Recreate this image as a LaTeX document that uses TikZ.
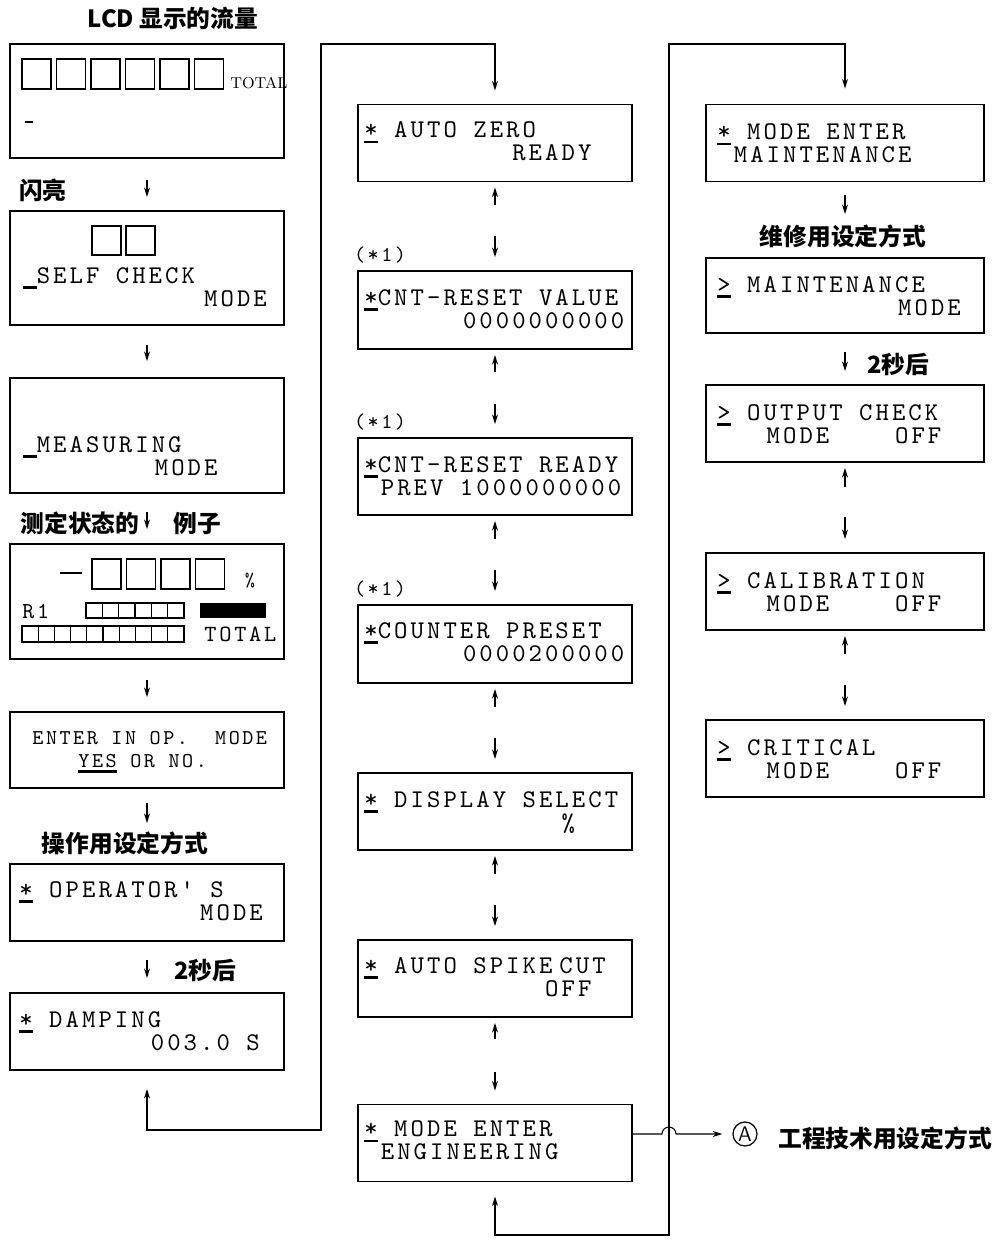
\documentclass[tikz,border=0pt]{standalone}
\usepackage{fontspec}
\newfontfamily\lcdfont{lmmono10-regular.otf}[LetterSpace=12]
\newfontfamily\cjk{Noto Sans CJK SC}
\usetikzlibrary{positioning, arrows.meta, calc}
% underline used for the LCD cursor
\newcommand\lcdul[1]{{\setbox0\hbox{#1}\rlap{\rule[-3pt]{\wd0}{1.3pt}}\box0}}
\newcommand\lcdcur{\lcdul{\phantom{x}}}

\begin{document}
\begin{tikzpicture}[
	x=0.02cm, y=-0.02cm,
	>={Stealth[length=5.5pt, width=3.4pt]},
	% LCD windows
	lcdbox/.style={
		draw,
		line width=1.1pt,
		minimum width=5.48cm,
		minimum height=1.54cm,
		inner sep=0pt
	},
	lcdtext/.style={
		anchor=north west,
		inner sep=0pt,
		align=left,
		font=\lcdfont\fontsize{14.5pt}{13pt}\selectfont
	},
	cn_label/.style={
		font=\cjk\bfseries\fontsize{13.5pt}{16pt}\selectfont,
		inner sep=0pt
	},
	note_text/.style={
		font=\lcdfont\fontsize{12pt}{12pt}\selectfont,
		inner sep=0pt
	},
	link/.style={line width=0.6pt},
	pairup/.style={link, <-, shorten <=0.1cm, shorten >=1.3cm},
	pairdown/.style={link, ->, shorten <=1.08cm, shorten >=0.26cm},
	cell/.style={line width=0.6pt}
	]
	
	\useasboundingbox (0,0) rectangle (1006,1241);
	
	% --- 1. LEFT COLUMN ---
	\node[cn_label] (lcd_title) at (173,18) {LCD 显示的流量};
	\node[lcdbox, minimum height=2.28cm] (lcd) at (147,101) {};
	\foreach \i in {0,...,5}
		\draw[cell] (22+34.5*\i,59) rectangle ++(29,30);
	\node[anchor=base west, inner sep=0pt, font=\rmfamily\fontsize{9pt}{9pt}\selectfont] (lcd_total) at (230,88) {TOTAL};
	\draw[line width=1.5pt] (25,122) -- (33,122);
	
	\node[cn_label] (flash) at (43,190) {闪亮};
	
	\node[lcdbox, minimum height=2.28cm] (self) at (147,268) {};
	\draw[cell] (92,226) rectangle ++(29,29);
	\draw[cell] (126,226) rectangle ++(29,29);
	\node[lcdtext] (self_t) at ([xshift=0.28cm, yshift=-1.14cm]self.north west) {\lcdcur SELF~CHECK\\~~~~~~~~~~~MODE};
	
	\node[lcdbox, minimum height=2.3cm] (meas) at (147,435.5) {};
	\node[lcdtext] (meas_t) at ([xshift=0.28cm, yshift=-1.18cm]meas.north west) {\lcdcur MEASURING\\~~~~~~~~MODE};
	
	\node[cn_label] (state_a) at (80,523) {测定状态的};
	\node[cn_label] (state_b) at (197,523) {例子};
	
	% example of the measuring display
	\node[lcdbox, minimum height=2.3cm] (exa) at (147,601.5) {};
	\draw[line width=1.2pt] (60,573) -- (82,573);
	\foreach \i in {0,...,3}
		\draw[cell] (92+34.5*\i,559) rectangle ++(29,30);
	\node[note_text, font=\lcdfont\fontsize{11pt}{11pt}\selectfont] (exa_pct) at (250,581) {\%};
	\node[note_text, anchor=base west, font=\lcdfont\fontsize{13pt}{13pt}\selectfont] (exa_r) at (22,618) {R1};
	\draw[cell] (86,603) rectangle (184,618);
	\foreach \i in {1,...,5}
		\draw[cell] (86+16.33*\i,603) -- ++(0,15);
	\fill (200,603) rectangle (266,618);
	\draw[cell] (22,626) rectangle (184,642);
	\foreach \i in {1,...,9}
		\draw[cell] (22+16.2*\i,626) -- ++(0,16);
	\node[note_text, anchor=base west, font=\lcdfont\fontsize{13.2pt}{13pt}\selectfont] (exa_total) at (204,641) {TOTAL};
	
	\node[lcdbox, minimum height=1.52cm] (enter) at (147,750) {};
	\node[lcdtext, font=\lcdfont\fontsize{12pt}{13pt}\selectfont] (enter_t) at ([xshift=0.46cm, yshift=-0.4cm]enter.north west) {ENTER~IN~OP.~~MODE\\~~~\hspace{3pt}\lcdul{YES}~OR~NO.};
	
	\node[cn_label] (oper_title) at (125,843) {操作用设定方式};
	
	\node[lcdbox] (oper) at (147,902.5) {};
	\node[lcdtext] (oper_t) at ([xshift=0.2cm, yshift=-0.36cm]oper.north west) {\lcdul{*}~OPERATOR'~S\\~~~~~~~~~~~MODE};
	
	\node[cn_label] (delay_l) at (205,970) {2秒后};
	
	\node[lcdbox] (damp) at (147,1031.5) {};
	\node[lcdtext] (damp_t) at ([xshift=0.2cm, yshift=-0.38cm]damp.north west) {\lcdul{*}~DAMPING\\~~~~~~~~003.0~S};
	
	% Arrows of the left column
	\draw[link, ->, shorten <=0.42cm, shorten >=0.26cm] (lcd) -- (self);
	\draw[link, ->, shorten <=0.38cm, shorten >=0.32cm] (self) -- (meas);
	\draw[link, ->, shorten <=0.36cm, shorten >=0.28cm] (meas) -- (exa);
	\draw[link, ->, shorten <=0.4cm, shorten >=0.28cm] (exa) -- (enter);
	\draw[link, ->, shorten <=0.28cm, shorten >=0.8cm] (enter) -- (oper);
	\draw[link, ->, shorten <=0.36cm, shorten >=0.28cm] (oper) -- (damp);
	
	% --- 2. MIDDLE COLUMN ---
	\node[lcdbox] (azero) at (495,143) {};
	\node[lcdtext] (azero_t) at ([xshift=0.14cm, yshift=-0.36cm]azero.north west) {\lcdul{*}~AUTO~ZERO\\~~~~~~~~~READY};
	
	\node[lcdbox, minimum height=1.56cm] (cntv) at (495,310) {};
	\node[lcdtext] (cntv_t) at ([xshift=0.14cm, yshift=-0.38cm]cntv.north west) {\lcdul{*}CNT-RESET~VALUE\\~~~~~~0000000000};
	\node[note_text] (cntv_n) at ([xshift=0.46cm, yshift=0.3cm]cntv.north west) {(*1)};
	
	\node[lcdbox] (cntr) at (495,476.5) {};
	\node[lcdtext] (cntr_t) at ([xshift=0.14cm, yshift=-0.38cm]cntr.north west) {\lcdul{*}CNT-RESET~READY\\~PREV~1000000000};
	\node[note_text] (cntr_n) at ([xshift=0.46cm, yshift=0.3cm]cntr.north west) {(*1)};
	
	\node[lcdbox, minimum height=1.56cm] (cpre) at (495,644) {};
	\node[lcdtext] (cpre_t) at ([xshift=0.14cm, yshift=-0.36cm]cpre.north west) {\lcdul{*}COUNTER~PRESET\\~~~~~~0000200000};
	\node[note_text] (cpre_n) at ([xshift=0.46cm, yshift=0.3cm]cpre.north west) {(*1)};
	
	\node[lcdbox] (disp) at (495,811.5) {};
	\node[lcdtext] (disp_t) at ([xshift=0.14cm, yshift=-0.38cm]disp.north west) {\lcdul{*}~DISPLAY~SELECT\\~~~~~~~~~~~~\%};
	
	\node[lcdbox] (spike) at (495,978.5) {};
	\node[lcdtext] (spike_t) at ([xshift=0.14cm, yshift=-0.36cm]spike.north west) {\lcdul{*}~AUTO~SPIKE\hspace{4pt}CUT\\~~~~~~~~~~~OFF};
	
	\node[lcdbox] (eng) at (495,1143) {};
	\node[lcdtext] (eng_t) at ([xshift=0.14cm, yshift=-0.34cm]eng.north west) {\lcdul{*}~MODE~ENTER\\~ENGINEERING};
	
	% Up/down arrows of the middle column
	\draw[pairup] (azero) -- (cntv);
	\draw[pairdown] (azero) -- (cntv);
	\draw[pairup] (cntv) -- (cntr);
	\draw[pairdown] (cntv) -- (cntr);
	\draw[pairup] (cntr) -- (cpre);
	\draw[pairdown] (cntr) -- (cpre);
	\draw[pairup] (cpre) -- (disp);
	\draw[pairdown] (cpre) -- (disp);
	\draw[pairup] (disp) -- (spike);
	\draw[pairdown] (disp) -- (spike);
	\draw[pairup] (spike) -- (eng);
	\draw[pairdown] (spike) -- (eng);
	
	% Loop Damping <-> Auto zero
	\coordinate (damp_down) at (321,1130);
	\coordinate (damp_up) at (321,44);
	\draw[link, <->, shorten <=0.36cm, shorten >=0.26cm] (damp.south) |- (damp_down) -- (damp_up) -| (azero.north);
	
	% --- 3. RIGHT COLUMN ---
	\node[lcdbox, minimum width=5.56cm] (mnt) at (845,143) {};
	\node[lcdtext] (mnt_t) at ([xshift=0.24cm, yshift=-0.4cm]mnt.north west) {\lcdul{*}~MODE~ENTER\\~MAINTENANCE};
	
	\node[cn_label] (mnt_title) at (843,236) {维修用设定方式};
	
	\node[lcdbox, minimum width=5.56cm, minimum height=1.5cm] (mntm) at (845,295.5) {};
	\node[lcdtext] (mntm_t) at ([xshift=0.24cm, yshift=-0.38cm]mntm.north west) {\lcdul{>}~MAINTENANCE\\~~~~~~~~~~~MODE};
	
	\node[cn_label] (delay_r) at (898,365) {2秒后};
	
	\node[lcdbox, minimum width=5.56cm] (outc) at (845,423.5) {};
	\node[lcdtext] (outc_t) at ([xshift=0.24cm, yshift=-0.4cm]outc.north west) {\lcdul{>}~OUTPUT~CHECK\\~~~MODE~~~~OFF};
	
	\node[lcdbox, minimum width=5.56cm] (cal) at (845,591.5) {};
	\node[lcdtext] (cal_t) at ([xshift=0.24cm, yshift=-0.4cm]cal.north west) {\lcdul{>}~CALIBRATION\\~~~MODE~~~~OFF};
	
	\node[lcdbox, minimum width=5.56cm] (crit) at (845,758.5) {};
	\node[lcdtext] (crit_t) at ([xshift=0.24cm, yshift=-0.4cm]crit.north west) {\lcdul{>}~CRITICAL\\~~~MODE~~~~OFF};
	
	\draw[link, ->, shorten <=0.26cm, shorten >=0.86cm] (mnt) -- (mntm);
	\draw[link, ->, shorten <=0.36cm, shorten >=0.26cm] (mntm) -- (outc);
	\draw[pairup] (outc) -- (cal);
	\draw[pairdown] (outc) -- (cal);
	\draw[pairup] (cal) -- (crit);
	\draw[pairdown] (cal) -- (crit);
	
	% Loop Engineering <-> Maintenance
	\coordinate (eng_down) at (669,1235);
	\coordinate (eng_up) at (669,44);
	\draw[link, <->, shorten <=0.28cm, shorten >=0.3cm] (eng.south) |- (eng_down) -- (eng_up) -| (mnt.north);
	
	% --- 4. EXIT TO ENGINEERING MODE ---
	\node[circle, draw, line width=0.7pt, minimum size=0.48cm, inner sep=0pt, font=\sffamily\fontsize{12pt}{12pt}\selectfont] (circA) at (745,1134) {A};
	\node[cn_label, anchor=west] (eng_title) at (778,1138) {工程技术用设定方式};
	\draw[link, ->, shorten >=0.2cm] ([yshift=0.18cm]eng.east) -- ($([yshift=0.18cm]eng.east -| eng_up)+(-0.14cm,0)$) arc[start angle=180, end angle=0, radius=0.14cm] -- (circA);
	
\end{tikzpicture}
\end{document}
